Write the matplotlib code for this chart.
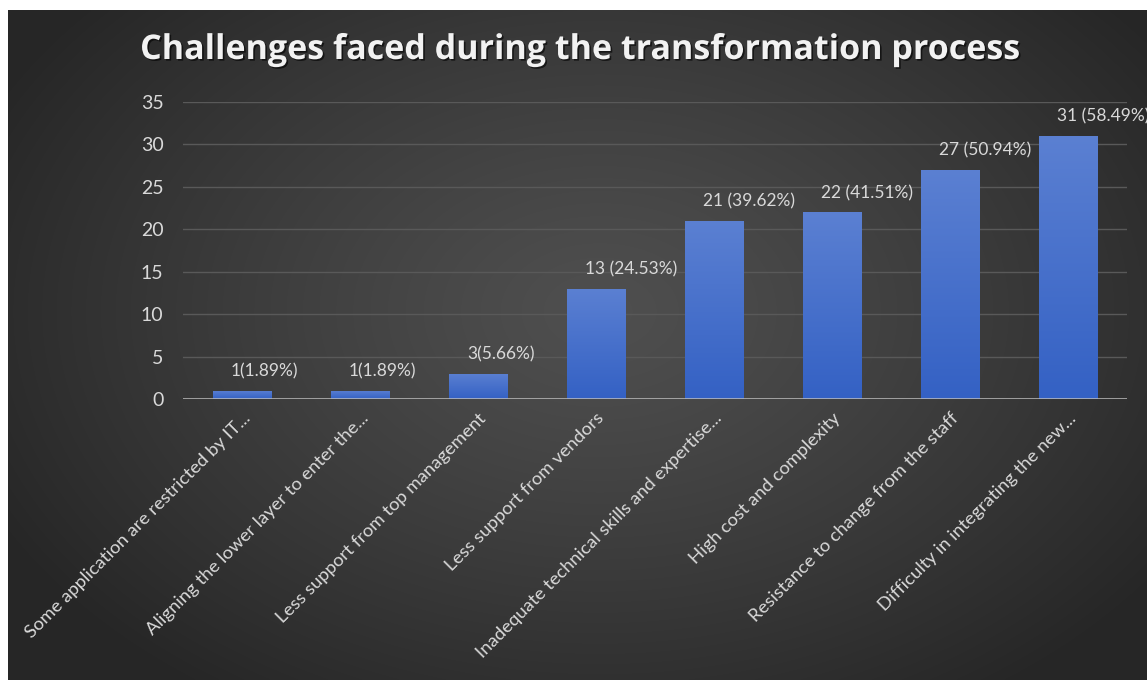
import matplotlib
matplotlib.use("Agg")
import matplotlib.pyplot as plt
import matplotlib.transforms as mtransforms
import matplotlib.patheffects as pe
from matplotlib.colors import LinearSegmentedColormap
import numpy as np

plt.rcParams['font.family'] = ['Lato', 'DejaVu Sans']

title = 'Challenges faced during the transformation process'
categories = [
    'Some application are restricted by IT...',
    'Aligning the lower layer to enter the...',
    'Less support from top management',
    'Less support from vendors',
    'Inadequate technical skills and expertise...',
    'High cost and complexity',
    'Resistance to change from the staff',
    'Difficulty in integrating the new...',
]
counts = [1, 1, 3, 13, 21, 22, 27, 31]
percents = ['1.89%', '1.89%', '5.66%', '24.53%', '39.62%', '41.51%', '50.94%', '58.49%']
yticks = [0, 5, 10, 15, 20, 25, 30, 35]

W, H = 1147, 680
fig = plt.figure(figsize=(W / 100, H / 100), dpi=100, facecolor='white')

# dark radial background, leaving the thin white strip on top and left
bg = fig.add_axes([8 / W, 0, 1 - 8 / W, 1 - 10 / H])
bg.set_axis_off()
gy, gx = np.mgrid[0:1:400j, 0:1:600j]
d = np.sqrt(((gx - 0.52) / 0.6) ** 2 + ((gy - 0.45) / 0.7) ** 2)
d = np.clip(d, 0, 1)
shade = 0.31 - 0.16 * d ** 1.2
bg.imshow(np.dstack([shade, shade, shade]), extent=[0, 1, 0, 1],
          origin='upper', aspect='auto', interpolation='bilinear')
bg.set_xlim(0, 1)
bg.set_ylim(0, 1)

ax = fig.add_axes([183 / W, 1 - 399 / H, 944 / W, (399 - 102) / H])
ax.patch.set_alpha(0)
x = np.arange(len(categories))

for t in yticks[1:]:
    ax.axhline(t, color='#595959', lw=1, zorder=1)
ax.axhline(0, color='#bfbfbf', lw=1.8, zorder=4)

bar_cmap = LinearSegmentedColormap.from_list('bar', ['#3461c4', '#5b80d2'])
grad = np.linspace(0, 1, 256).reshape(-1, 1)
bw = 0.25
bars = ax.bar(x, counts, width=2 * bw, color='none', zorder=2)
for xi, c, p, bar in zip(x, counts, percents, bars):
    im = ax.imshow(grad, cmap=bar_cmap, origin='lower', aspect='auto',
                   extent=[xi - bw, xi + bw, 0, c], zorder=2)
    im.set_clip_path(bar)
    ax.annotate(f'{c} ({p})' if c > 9 else f'{c}({p})',
                xy=(xi, c), xytext=(-8, 8), textcoords='offset points',
                ha='left', va='bottom', color='#d9d9d9', fontsize=12.5,
                zorder=5, annotation_clip=False)

ax.set_xlim(-0.5, len(categories) - 0.5)
ax.set_ylim(0, 35)

ax.set_yticks(yticks)
ax.set_yticklabels([str(t) for t in yticks], color='#d9d9d9', fontsize=14)
ax.set_xticks(x)
ax.set_xticklabels(categories, rotation=45, ha='right', va='top',
                   rotation_mode='anchor', color='#d9d9d9', fontsize=13.3)
shift = mtransforms.ScaledTranslation(14 / 100, -2 / 100, fig.dpi_scale_trans)
for lbl in ax.get_xticklabels():
    lbl.set_transform(lbl.get_transform() + shift)
ax.tick_params(axis='x', length=0, pad=8)
ax.tick_params(axis='y', length=0, pad=14)
for s in ax.spines.values():
    s.set_visible(False)

fig.text(0.505, 1 - 50 / H, title, ha='center', va='center', color='#f2f2f2',
         fontsize=24.5, fontweight='bold', family=['Open Sans', 'DejaVu Sans'],
         path_effects=[pe.withSimplePatchShadow(offset=(1.2, -1.2),
                                                shadow_rgbFace='black', alpha=0.6)])

fig.savefig('out.png', dpi=100, facecolor=fig.get_facecolor())
